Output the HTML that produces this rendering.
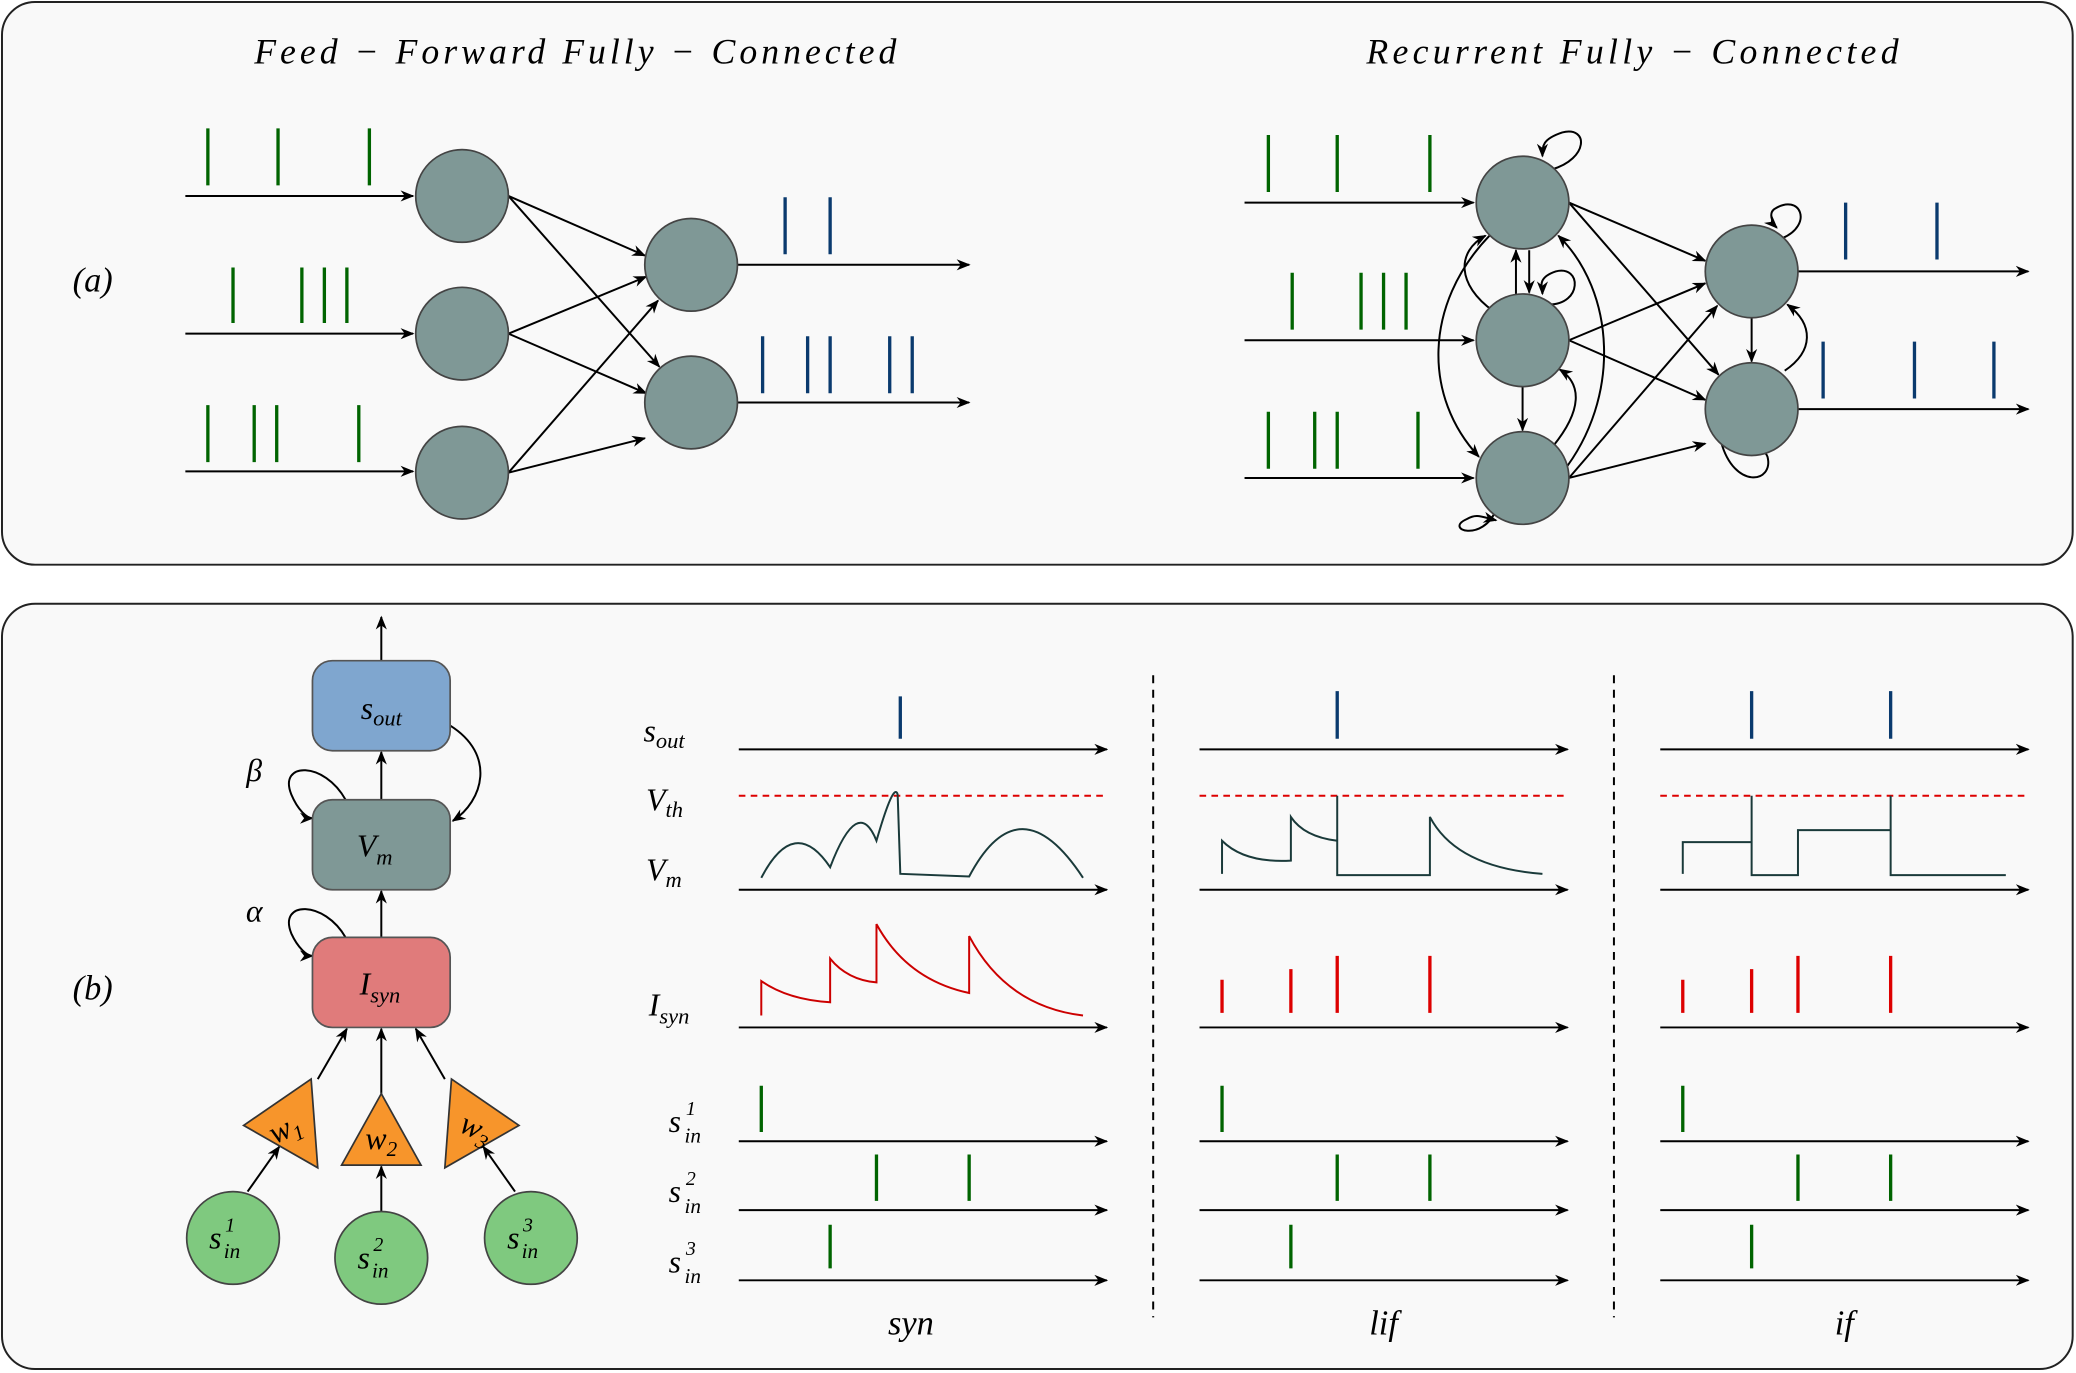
<!DOCTYPE html>
<html><head><meta charset="utf-8"><style>html,body{margin:0;padding:0;background:#fff}svg{display:block}</style></head>
<body>
<svg width="2076" height="1373" viewBox="0 0 1568 1037" preserveAspectRatio="none" xmlns="http://www.w3.org/2000/svg" font-family="'Liberation Serif',serif" font-style="italic">
<defs>
<marker id="a" viewBox="0 0 10 10" refX="9" refY="5" markerWidth="7" markerHeight="7" orient="auto-start-reverse"><path d="M0,1 L10,5 L0,9 L3,5 z" fill="#000"/></marker>
</defs>
<rect x="1.5" y="1.5" width="1564" height="425" rx="25" fill="#f9f9f9" stroke="#222" stroke-width="1.5"/>
<rect x="1.5" y="456" width="1564" height="578" rx="25" fill="#f9f9f9" stroke="#222" stroke-width="1.5"/>
<text x="192" y="48" font-size="27" textLength="485" lengthAdjust="spacing">Feed − Forward Fully − Connected</text>
<text x="1032" y="48" font-size="27" textLength="402" lengthAdjust="spacing">Recurrent Fully − Connected</text>
<text x="70" y="220" font-size="26" text-anchor="middle">(a)</text>
<text x="70" y="755" font-size="26" text-anchor="middle">(b)</text>

<g stroke="#000" stroke-width="1.5" fill="none" marker-end="url(#a)">
<line x1="140" y1="148" x2="312" y2="148"/><line x1="140" y1="252" x2="312" y2="252"/><line x1="140" y1="356" x2="312" y2="356"/>
<line x1="557" y1="200" x2="732" y2="200"/><line x1="557" y1="304" x2="732" y2="304"/>
<line x1="384" y1="148" x2="487" y2="193"/><line x1="384" y1="148" x2="498" y2="277"/>
<line x1="384" y1="252" x2="488" y2="209"/><line x1="384" y1="252" x2="488" y2="297"/>
<line x1="384" y1="357" x2="497" y2="227"/><line x1="384" y1="357" x2="487" y2="331"/>
<line x1="940" y1="153" x2="1113" y2="153"/><line x1="940" y1="257" x2="1113" y2="257"/><line x1="940" y1="361" x2="1113" y2="361"/>
<line x1="1358" y1="205" x2="1532" y2="205"/><line x1="1358" y1="309" x2="1532" y2="309"/>
<line x1="1185" y1="153" x2="1288" y2="197"/><line x1="1185" y1="153" x2="1298" y2="283"/>
<line x1="1185" y1="257" x2="1288" y2="214"/><line x1="1185" y1="257" x2="1288" y2="302"/>
<line x1="1185" y1="361" x2="1297" y2="231"/><line x1="1185" y1="361" x2="1288" y2="335"/>
<line x1="1145" y1="222" x2="1145" y2="189"/><line x1="1155" y1="189" x2="1155" y2="221"/>
<line x1="1150" y1="292" x2="1150" y2="325"/>
<line x1="1323" y1="240" x2="1323" y2="273"/>
<path d="M1125,178 C1075,230 1075,300 1117,345"/>
<path d="M1128,235 C1100,215 1100,190 1122,178"/>
<path d="M1173,337 C1195,310 1195,290 1178,279"/>
<path d="M1180,357 C1225,300 1220,220 1177,178"/>
<path d="M1348,280 C1370,265 1370,245 1350,230"/>
<path d="M1172,128 C1200,120 1200,95 1180,100 C1165,105 1165,110 1165,118"/>
<path d="M1170,230 C1195,230 1195,200 1175,205 C1160,210 1165,218 1165,222"/>
<path d="M1130,385 C1120,410 1090,400 1108,392 C1115,388 1118,390 1130,393"/>
<path d="M1346,180 C1370,170 1360,145 1340,158 C1335,162 1340,170 1342,172"/>
<path d="M1300,334 C1310,370 1340,365 1335,345 C1333,340 1330,340 1328,343"/>
<line x1="288" y1="499" x2="288" y2="466"/><line x1="288" y1="604" x2="288" y2="568"/><line x1="288" y1="708" x2="288" y2="673"/>
<path d="M340,548 C375,570 365,605 342,620"/>
<path d="M261,604 C245,575 210,575 220,600 C225,612 232,618 236,618"/>
<path d="M261,708 C245,680 210,680 220,705 C225,716 232,722 236,722"/>
<line x1="288" y1="826" x2="288" y2="777"/>
<line x1="240" y1="815" x2="262" y2="777"/>
<line x1="336" y1="815" x2="314" y2="777"/>
<line x1="187" y1="900" x2="211" y2="866"/>
<line x1="288" y1="915" x2="288" y2="881"/>
<line x1="389" y1="900" x2="365" y2="866"/>
<g id="ax">
<line x1="558" y1="566" x2="836" y2="566"/><line x1="558" y1="672" x2="836" y2="672"/><line x1="558" y1="776" x2="836" y2="776"/>
<line x1="558" y1="862" x2="836" y2="862"/><line x1="558" y1="914" x2="836" y2="914"/><line x1="558" y1="967" x2="836" y2="967"/>
</g>
<use href="#ax" x="348"/><use href="#ax" x="696"/>
</g>

<g fill="#7f9896" stroke="#444" stroke-width="1.3">
<circle cx="349" cy="148" r="35"/><circle cx="349" cy="252" r="35"/><circle cx="349" cy="357" r="35"/>
<circle cx="522" cy="200" r="35"/><circle cx="522" cy="304" r="35"/>
<circle cx="1150" cy="153" r="35"/><circle cx="1150" cy="257" r="35"/><circle cx="1150" cy="361" r="35"/>
<circle cx="1323" cy="205" r="35"/><circle cx="1323" cy="309" r="35"/>
</g>

<g stroke="#006400" stroke-width="2.5">
<path d="M157,97V140M210,97V140M279,97V140M176,202V244M228,202V244M245,202V244M262,202V244M157,306V349M192,306V349M209,306V349M271,306V349"/>
<path d="M958,102V145M1010,102V145M1080,102V145M976,206V249M1028,206V249M1045,206V249M1062,206V249M958,311V354M993,311V354M1010,311V354M1071,311V354"/>
<path d="M575,820V855M662,872V907M732,872V907M627,925V958"/>
<path d="M923,820V855M1010,872V907M1080,872V907M975,925V958"/>
<path d="M1271,820V855M1358,872V907M1428,872V907M1323,925V958"/>
</g>
<g stroke="#0a3a6e" stroke-width="2.5">
<path d="M593,149V192M627,149V192M576,254V297M610,254V297M627,254V297M672,254V297M689,254V297"/>
<path d="M1394,153V196M1463,153V196M1377,258V301M1446,258V301M1506,258V301"/>
<path d="M680,526V558M1010,522V558M1323,522V558M1428,522V558"/>
</g>
<g stroke="#d00" stroke-width="2.5">
<path d="M923,740V765M975,732V765M1010,722V765M1080,722V765M1271,740V765M1323,732V765M1358,722V765M1428,722V765"/>
</g>
<g stroke="#d00" stroke-width="1.5" stroke-dasharray="5,4">
<path d="M558,601H836M906,601H1184M1254,601H1532"/>
</g>
<g stroke="#000" stroke-width="1.5" stroke-dasharray="6,5"><path d="M871,510V995M1219,510V995"/></g>
<g fill="none" stroke="#1a3a3a" stroke-width="1.5">
<path d="M575,663 Q600,615 627,655 Q648,600 662,635 Q675,590 678,600 L680,660 L732,662 Q770,590 818,663"/>
<path d="M923,660 V635 Q940,652 975,650 V617 Q985,632 1010,635 V601 V661 H1080 V617 Q1100,655 1165,660"/>
<path d="M1271,660 V636 H1323 V601 V661 H1358 V627 H1428 V601 V661 H1515"/>
</g>
<path d="M575,767 V741 Q595,755 627,757 V724 Q640,740 662,742 V698 Q685,740 732,750 V707 Q760,760 818,767" fill="none" stroke="#c00" stroke-width="1.5"/>

<rect x="236" y="499" width="104" height="68" rx="15" fill="#7fa6cf" stroke="#555" stroke-width="1.3"/>
<rect x="236" y="604" width="104" height="68" rx="15" fill="#7f9896" stroke="#555" stroke-width="1.3"/>
<rect x="236" y="708" width="104" height="68" rx="15" fill="#e07b7b" stroke="#555" stroke-width="1.3"/>
<g fill="#f7952b" stroke="#333" stroke-width="1.3">
<polygon points="184,850 235,815 240,882"/>
<polygon points="288,826 258,880 318,880"/>
<polygon points="392,850 341,815 336,882"/>
</g>
<g fill="#7fc97f" stroke="#444" stroke-width="1.3">
<circle cx="176" cy="935" r="35"/><circle cx="288" cy="950" r="35"/><circle cx="401" cy="935" r="35"/>
</g>

<g font-size="24">
<text x="288" y="543" text-anchor="middle">s<tspan font-size="17" dy="5">out</tspan></text>
<text x="283" y="647" text-anchor="middle">V<tspan font-size="17" dy="6">m</tspan></text>
<text x="287" y="751" text-anchor="middle">I<tspan font-size="17" dy="6">syn</tspan></text>
<text x="192" y="590" text-anchor="middle">β</text>
<text x="192" y="696" text-anchor="middle">α</text>
<text x="215" y="860" text-anchor="middle" transform="rotate(-25 215 852)">w<tspan font-size="16" dy="5">1</tspan></text>
<text x="288" y="868" text-anchor="middle">w<tspan font-size="16" dy="5">2</tspan></text>
<text x="360" y="860" text-anchor="middle" transform="rotate(25 360 852)">w<tspan font-size="16" dy="5">3</tspan></text>
<text x="158" y="943">s</text><text x="170" y="930" font-size="15">1</text><text x="169" y="950" font-size="16">in</text>
<text x="270" y="958">s</text><text x="282" y="945" font-size="15">2</text><text x="281" y="965" font-size="16">in</text>
<text x="383" y="943">s</text><text x="395" y="930" font-size="15">3</text><text x="394" y="950" font-size="16">in</text>
<text x="486" y="560">s<tspan font-size="17" dy="5">out</tspan></text>
<text x="488" y="612">V<tspan font-size="17" dy="5">th</tspan></text>
<text x="488" y="665">V<tspan font-size="17" dy="5">m</tspan></text>
<text x="490" y="767">I<tspan font-size="17" dy="6">syn</tspan></text>
<text x="505" y="855">s</text><text x="518" y="842" font-size="15">1</text><text x="517" y="863" font-size="16">in</text>
<text x="505" y="908">s</text><text x="518" y="895" font-size="15">2</text><text x="517" y="916" font-size="16">in</text>
<text x="505" y="961">s</text><text x="518" y="948" font-size="15">3</text><text x="517" y="969" font-size="16">in</text>
<text x="688" y="1008" font-size="26" text-anchor="middle">syn</text>
<text x="1045" y="1008" font-size="26" text-anchor="middle">lif</text>
<text x="1393" y="1008" font-size="26" text-anchor="middle">if</text>
</g>
</svg>
</body></html>
